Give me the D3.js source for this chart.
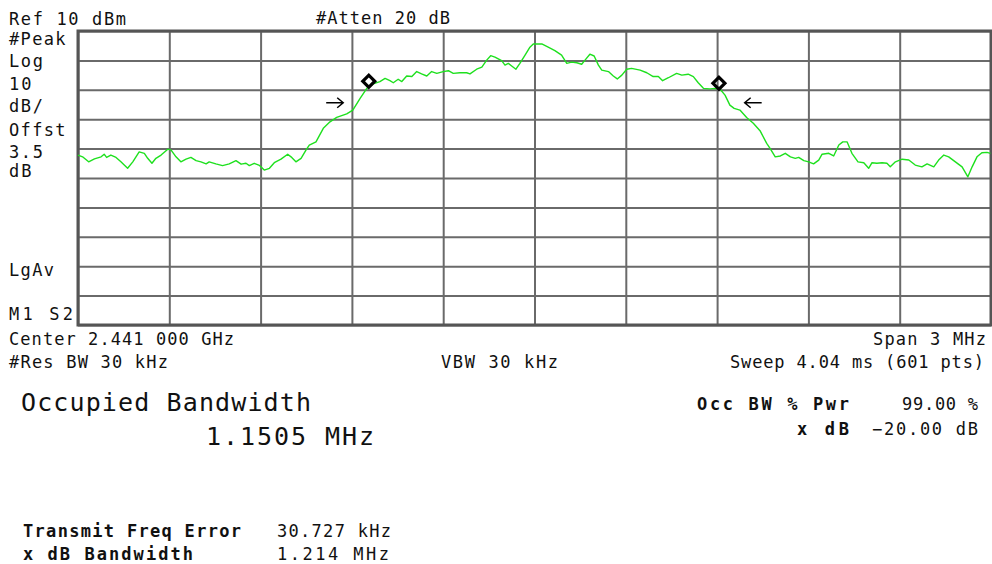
<!DOCTYPE html>
<html>
<head>
<meta charset="utf-8">
<script src="https://cdn.jsdelivr.net/npm/d3@7"></script>
<style>
  html, body { margin: 0; padding: 0; background: #fff; }
  svg { display: block; }
  .t { font-family: "DejaVu Sans Mono", monospace; font-size: 17px; fill: #111; }
  .b { font-weight: bold; }
  .big { font-family: "DejaVu Sans Mono", monospace; font-size: 25px; fill: #111; }
</style>
</head>
<body>
<script>
// ---- data (frequency offset from centre in MHz, level in dBm) ----
const freqOffsetMHz = [
  -1.500,-1.485,-1.465,-1.446,-1.424,-1.414,-1.406,-1.392,-1.375,-1.359,-1.337,-1.320,-1.299,-1.282,-1.271,-1.257,-1.244,-1.227,-1.205,-1.194,
  -1.178,-1.162,-1.145,-1.129,-1.112,-1.096,-1.079,-1.069,-1.047,-1.025,-1.003,-0.981,-0.964,-0.948,-0.937,-0.921,-0.906,-0.899,-0.888,-0.871,
  -0.855,-0.833,-0.811,-0.800,-0.784,-0.767,-0.751,-0.740,-0.718,-0.694,-0.672,-0.650,-0.617,-0.597,-0.573,-0.551,-0.530,-0.508,-0.491,-0.475,
  -0.464,-0.448,-0.436,-0.420,-0.403,-0.387,-0.371,-0.354,-0.338,-0.321,-0.300,-0.283,-0.267,-0.245,-0.223,-0.212,-0.190,-0.173,-0.157,-0.144,
  -0.130,-0.108,-0.097,-0.086,-0.075,-0.061,-0.048,-0.031,-0.015,-0.004,0.013,0.024,0.045,0.067,0.089,0.106,0.122,0.139,0.155,0.166,
  0.182,0.196,0.210,0.221,0.243,0.259,0.272,0.287,0.303,0.319,0.347,0.369,0.390,0.407,0.421,0.440,0.467,0.484,0.505,0.522,
  0.538,0.555,0.577,0.593,0.610,0.626,0.642,0.656,0.675,0.697,0.719,0.741,0.763,0.774,0.791,0.808,0.824,0.841,0.857,0.868,
  0.885,0.901,0.917,0.934,0.945,0.967,0.983,1.000,1.013,1.027,1.043,1.063,1.082,1.098,1.109,1.125,1.142,1.158,1.169,1.186,
  1.208,1.230,1.251,1.273,1.290,1.312,1.328,1.345,1.361,1.383,1.405,1.424,1.438,1.454,1.470,1.487,1.498
];
const levelDbm = [
  -32.2,-32.8,-34.5,-33.5,-32.8,-31.9,-33.0,-32.2,-33.0,-34.5,-36.7,-34.5,-31.1,-31.6,-33.3,-35.0,-33.3,-32.2,-30.2,-30.5,
  -32.8,-34.5,-33.6,-33.0,-34.1,-34.5,-35.2,-34.5,-35.2,-35.8,-35.2,-34.1,-35.3,-35.0,-35.8,-35.0,-35.6,-36.2,-37.3,-36.7,
  -34.8,-33.6,-31.9,-32.8,-34.5,-33.3,-30.5,-28.8,-27.7,-23.1,-20.9,-19.4,-18.2,-16.9,-12.9,-9.5,-8.0,-7.2,-6.1,-6.9,
  -7.6,-6.4,-7.2,-5.3,-5.5,-3.8,-4.6,-5.3,-3.8,-4.4,-3.8,-3.5,-4.4,-4.2,-4.2,-4.6,-3.0,-2.3,0.1,1.6,
  1.1,-0.1,-1.6,-1.0,-1.9,-3.0,-1.0,1.8,4.5,5.6,5.6,5.6,4.5,3.3,1.8,-1.0,-0.6,-0.8,-1.3,0.1,
  2.1,1.5,-1.6,-3.3,-3.8,-5.3,-6.3,-5.0,-3.0,-2.7,-3.3,-4.2,-5.5,-5.5,-6.9,-5.9,-4.4,-5.0,-4.7,-5.5,
  -7.6,-9.5,-9.7,-9.5,-9.8,-11.8,-15.2,-16.3,-16.9,-19.4,-21.4,-23.9,-28.2,-29.9,-32.8,-32.5,-31.6,-32.8,-33.3,-33.0,
  -34.1,-34.5,-35.2,-33.9,-31.9,-31.6,-32.5,-28.8,-27.7,-27.7,-31.6,-34.5,-34.8,-36.7,-34.8,-35.0,-34.8,-35.0,-36.2,-34.5,
  -33.6,-33.9,-35.6,-36.2,-35.2,-36.2,-33.9,-32.2,-32.8,-34.5,-36.2,-39.6,-36.2,-32.8,-31.4,-31.3,-31.6
];
const markerFreqs = [-0.5445, 0.6060];
const markerLevels = [-9.1, -9.8];
const xdBEdges = [-0.576, 0.638];
const xdBLevel = -14.4;
const gridFreqs = [-1.5,-1.2,-0.9,-0.6,-0.3,0,0.3,0.6,0.9,1.2,1.5];
const gridLevels = [10,0,-10,-20,-30,-40,-50,-60,-70,-80,-90];
const leftLabels = ["#Peak","Log","10","dB/","Offst","3.5","dB"];
const headerLabels = ["Ref 10 dBm", "#Atten 20 dB"];
const footerLabels = ["Center 2.441 000 GHz", "Span 3 MHz", "#Res BW 30 kHz", "VBW 30 kHz", "Sweep 4.04 ms (601 pts)"];
const resultNames = ["Transmit Freq Error", "x dB Bandwidth"];
const resultValues = ["30.727 kHz", "1.214 MHz"];
const settingNames = ["Occ BW % Pwr", "x dB"];
const settingValues = ["99.00 %", "\u221220.00 dB"];
const occBwTitle = "Occupied Bandwidth";
const occBwValue = "1.1505 MHz";

// ---- layout ----
const W = 992, H = 564;
const L = 78, R = 991, T = 31, B = 325;
const svg = d3.select("body").append("svg").attr("width", W).attr("height", H);

const x = d3.scaleLinear().domain([-1.5, 1.5]).range([L, R]);
const y = d3.scaleLinear().domain([-90, 10]).range([B, T]);

// grid via axes
const gx = svg.append("g").attr("transform", `translate(0,${B})`)
  .call(d3.axisBottom(x).tickValues(gridFreqs).tickSize(-(B - T)).tickFormat(""));
const gy = svg.append("g").attr("transform", `translate(${L},0)`)
  .call(d3.axisLeft(y).tickValues(gridLevels).tickSize(-(R - L)).tickFormat(""));
[gx, gy].forEach(g => {
  g.select(".domain").remove();
  g.selectAll(".tick line").attr("stroke", "#6a6a6a").attr("stroke-width", 2);
});
// frame
svg.append("rect").attr("x", L).attr("y", T).attr("width", R - L).attr("height", B - T)
  .attr("fill", "none").attr("stroke", "#555").attr("stroke-width", 3);

// trace
const pts = freqOffsetMHz.map((f, i) => [f, levelDbm[i]]);
svg.append("path").datum(pts)
  .attr("fill", "none").attr("stroke", "#1ee01e").attr("stroke-width", 1.4)
  .attr("stroke-linejoin", "round")
  .attr("d", d3.line().x(d => x(d[0])).y(d => y(d[1])));

// markers (diamonds sit on the trace)
const sym = d3.symbol().type(d3.symbolSquare).size(72);
markerFreqs.forEach((f, i) => {
  svg.append("path").attr("d", sym())
    .attr("transform", `translate(${x(f)},${y(markerLevels[i]) - 6}) rotate(45)`)
    .attr("fill", "none").attr("stroke", "#000").attr("stroke-width", 3.2);
});

// x dB arrows
function arrow(xTip, dir) {
  const yy = y(xdBLevel);
  const tail = xTip - dir * 17;
  svg.append("path")
    .attr("d", `M${tail},${yy}L${xTip},${yy}M${xTip - dir * 6},${yy - 5}L${xTip},${yy}L${xTip - dir * 6},${yy + 5}`)
    .attr("fill", "none").attr("stroke", "#000").attr("stroke-width", 1.5);
}
arrow(x(xdBEdges[0]) - 16, 1);
arrow(x(xdBEdges[1]) + 16, -1);

// texts (width fitted to the reference)
const txt = (s, px, py, cls, w, anchor) => {
  const t = svg.append("text").attr("class", cls)
    .attr("x", px).attr("y", py).attr("text-anchor", anchor || "start").text(s);
  if (w) t.attr("textLength", w).attr("lengthAdjust", "spacing");
  return t;
};

txt(headerLabels[0], 9, 25, "t", 117);
txt(headerLabels[1], 316, 24, "t", 134);
const leftY = [45, 67, 90, 112, 136, 158, 177];
leftLabels.forEach((s, i) => txt(s, 9, leftY[i], "t", s.length * 11.3));
txt("LgAv", 9, 276, "t", 45);
txt("M1  S2", 9, 320, "t", 64);
txt(footerLabels[0], 9, 345, "t", 225);
txt(footerLabels[1], 986, 345, "t", 113, "end");
txt(footerLabels[2], 9, 368, "t", 159);
txt(footerLabels[3], 441, 368, "t", 117);
txt(footerLabels[4], 984, 368, "t", 254, "end");

txt(occBwTitle, 21, 411, "big", 290);
txt(occBwValue, 206, 445, "big", 168);

txt(settingNames[0], 849, 410, "t b", 152, "end");
txt(settingNames[1], 849, 435, "t b", 52, "end");
txt(settingValues[0], 978, 410, "t", 76, "end");
txt(settingValues[1], 978, 435, "t", 106, "end");

txt(resultNames[0], 23, 537, "t b", 218);
txt(resultNames[1], 23, 560, "t b", 170);
txt(resultValues[0], 277, 537, "t", 114);
txt(resultValues[1], 277, 560, "t", 112);
</script>
</body>
</html>
